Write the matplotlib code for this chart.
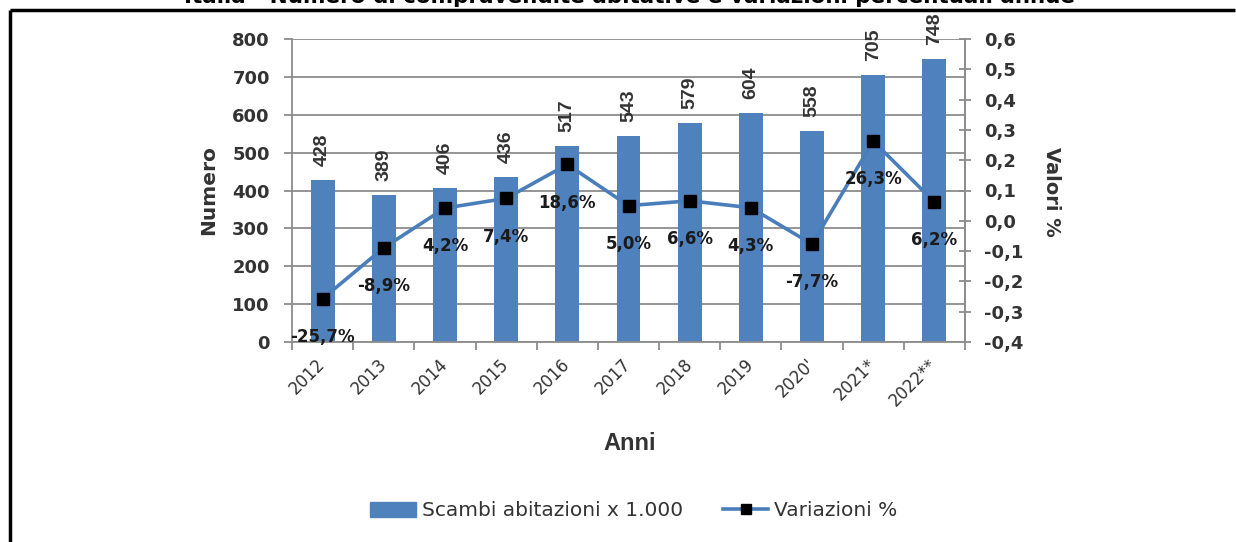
import matplotlib
matplotlib.use("Agg")
import matplotlib.pyplot as plt
from matplotlib.lines import Line2D
from matplotlib.patches import Patch
import numpy as np

plt.rcParams['font.family'] = ['DejaVu Sans']

# dati
anni = ['2012', '2013', '2014', '2015', '2016', '2017', '2018', '2019', "2020'", '2021*', '2022**']
scambi = [428, 389, 406, 436, 517, 543, 579, 604, 558, 705, 748]
variazioni = [-0.257, -0.089, 0.042, 0.074, 0.186, 0.050, 0.066, 0.043, -0.077, 0.263, 0.062]
etichette_var = ['-25,7%', '-8,9%', '4,2%', '7,4%', '18,6%', '5,0%', '6,6%', '4,3%', '-7,7%', '26,3%', '6,2%']
tick_sx = [0, 100, 200, 300, 400, 500, 600, 700, 800]
tick_dx = [-0.4, -0.3, -0.2, -0.1, 0.0, 0.1, 0.2, 0.3, 0.4, 0.5, 0.6]

blu = '#4F81BD'
blu_linea = '#4A7EBB'
grigio = '#8c8c8c'
testo = '#333333'

W, H = 1236, 542
fig = plt.figure(figsize=(W / 100, H / 100), dpi=100)
ax = fig.add_axes([292 / W, 200 / H, 673 / W, 303 / H])
x = np.arange(len(anni))

# barre
ax.bar(x, scambi, width=0.39, color=blu, zorder=2)
for xi, v in zip(x, scambi):
    ax.annotate(str(v), (xi, v), xytext=(0, 10), textcoords='offset points',
                rotation=90, ha='center', va='bottom', fontsize=14,
                fontweight='bold', family='Liberation Sans', color=testo)

ax.set_xlim(-0.5, len(anni) - 0.5)
ax.set_ylim(0, 800)
ax.set_yticks(tick_sx)
ax.yaxis.grid(True, color=grigio, linewidth=1.3, zorder=0)
ax.set_axisbelow(True)
ax.tick_params(axis='y', labelsize=13, colors=grigio, labelcolor=testo, length=6, width=1.3, pad=10)
for lab in ax.get_yticklabels():
    lab.set_fontweight('bold')

ax.set_xticks(x)
ax.set_xticklabels(anni, rotation=45, ha='right', va='center', rotation_mode='anchor',
                   fontsize=12, color=testo)
ax.set_xticks(np.arange(-0.5, len(anni)), minor=True)
ax.tick_params(axis='x', which='major', length=0, pad=14)
ax.tick_params(axis='x', which='minor', length=6, width=1.3, color=grigio)

ax.spines['top'].set_visible(False)
for s in ['left', 'right', 'bottom']:
    ax.spines[s].set_color(grigio)
    ax.spines[s].set_linewidth(1.3)

# linea variazioni
ax2 = ax.twinx()
ax2.plot(x, variazioni, color=blu_linea, linewidth=2.6, marker='s', markersize=9,
         markerfacecolor='black', markeredgecolor='black', zorder=3)
for xi, v, t in zip(x, variazioni, etichette_var):
    ax2.annotate(t, (xi, v), xytext=(0, -27.5), textcoords='offset points',
                 ha='center', va='center', fontsize=12, fontweight='bold', color='#1a1a1a')
ax2.set_ylim(-0.4, 0.6)
ax2.set_yticks(tick_dx)
ax2.set_yticklabels([f'{t:.1f}'.replace('.', ',') for t in tick_dx])
ax2.tick_params(axis='y', labelsize=13, colors=grigio, labelcolor=testo,
                direction='inout', length=8, width=1.3, pad=10)
for lab in ax2.get_yticklabels():
    lab.set_fontweight('bold')
for s in ['top', 'left', 'bottom']:
    ax2.spines[s].set_visible(False)
ax2.spines['right'].set_color(grigio)
ax2.spines['right'].set_linewidth(1.3)

# titoli degli assi
fig.text(209 / W, 1 - 190 / H, 'Numero', rotation=90, ha='center', va='center',
         fontsize=14.5, fontweight='bold', color=testo)
fig.text(1051 / W, 1 - 192 / H, 'Valori %', rotation=-90, ha='center', va='center',
         fontsize=14, fontweight='bold', color=testo)
fig.text(630 / W, 1 - 443 / H, 'Anni', ha='center', va='center',
         fontsize=17, fontweight='bold', family='Liberation Sans', color=testo)

# legenda
handles = [Patch(color=blu, label='Scambi abitazioni x 1.000'),
           Line2D([0], [0], color=blu_linea, linewidth=2.6, marker='s', markersize=7,
                  markerfacecolor='black', markeredgecolor='black', label='Variazioni %')]
fig.legend(handles=handles, loc='center', bbox_to_anchor=(634 / W, 1 - 511 / H),
           ncol=2, frameon=False, fontsize=14.5, handlelength=2.25, handleheight=0.75,
           handletextpad=0.3, columnspacing=2.0, labelcolor=testo)

# titolo tagliato e cornice
fig.text(630 / W, 1 - 3 / H, 'Italia - Numero di compravendite abitative e variazioni percentuali annue',
         ha='center', va='baseline', fontsize=15.5, fontweight='bold', color='black')
fig.add_artist(Line2D([10 / W, 1 - 1 / W], [1 - 10 / H, 1 - 10 / H], color='black', linewidth=2.5,
                      solid_capstyle='butt', transform=fig.transFigure))
fig.add_artist(Line2D([10 / W, 10 / W], [0, 1 - 10 / H], color='black', linewidth=2.5,
                      solid_capstyle='butt', transform=fig.transFigure))

fig.savefig('out.png', dpi=100)
